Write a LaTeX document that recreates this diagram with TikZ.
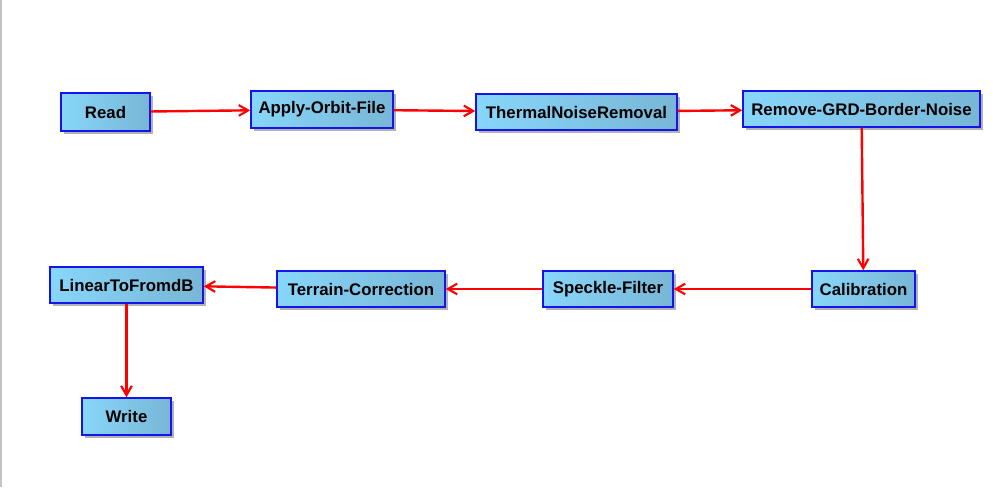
\documentclass[tikz,border=0pt]{standalone}
\usepackage{fontspec}
\setmainfont{Liberation Sans}
\usetikzlibrary{arrows.meta,shadows}

\definecolor{boxleft}{RGB}{135,214,250}
\definecolor{boxright}{RGB}{120,182,214}
\definecolor{boxline}{RGB}{20,20,235}
\definecolor{framegray}{RGB}{192,196,200}

\begin{document}
\begin{tikzpicture}[
  x=0.75pt, y=-0.75pt,
  opnode/.style={%
    rectangle,%
    draw=boxline,
    line width=1.1pt,%
    left color=boxleft,%
    right color=boxright,%
    drop shadow={shadow xshift=2pt,shadow yshift=-2pt,opacity=0.3,fill=black},
    font=\fontsize{12.6}{14}\selectfont\bfseries,
    inner sep=0pt,
    minimum height=27pt%
  },
  flow/.style={%
    draw=red,
    line width=1.8pt,
    -{Straight Barb[length=7pt,width=8pt,line width=1.6pt]}%
  }
]

  \useasboundingbox (0,0) rectangle (993,487);
  \draw[framegray, line width=1pt] (1,0) -- (1,487);

  \node [opnode, minimum width=66.75pt, minimum height=28.5pt] (read)    at (105.5,112)   {Read};
  \node [opnode, minimum width=106.5pt, minimum height=27.75pt] (orbit)  at (322,109.5)   {Apply-Orbit-File};
  \node [opnode, minimum width=150.75pt] (thermal) at (576.5,112)   {ThermalNoiseRemoval};
  \node [opnode, minimum width=177.75pt] (border)  at (861.5,109)   {Remove-GRD-Border-Noise};
  \node [opnode, minimum width=77.25pt]  (calib)   at (863.5,289)   {Calibration};
  \node [opnode, minimum width=97.5pt]   (speckle) at (608,289)     {Speckle-Filter};
  \node [opnode, minimum width=126pt]    (terrain) at (361,289)     {Terrain-Correction};
  \node [opnode, minimum width=114.75pt] (lindb)   at (126.5,285)   {LinearToFromdB};
  \node [opnode, minimum width=66.75pt, minimum height=27.75pt] (write) at (126.5,416.5) {Write};

  \draw[flow] (read) -- (orbit);
  \draw[flow] (orbit) -- (thermal);
  \draw[flow] (thermal) -- (border);
  \draw[flow] (border) -- (calib);
  \draw[flow] (calib) -- (speckle);
  \draw[flow] (speckle) -- (terrain);
  \draw[flow] (terrain) -- (lindb);
  \draw[flow] (lindb) -- (write);

\end{tikzpicture}
\end{document}
